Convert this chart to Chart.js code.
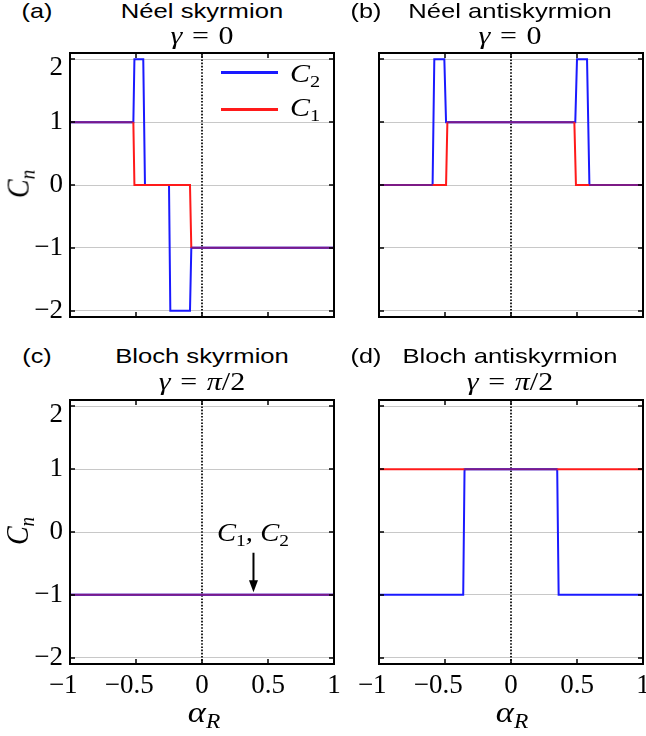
<!DOCTYPE html>
<html>
<head>
<meta charset="utf-8">
<script src="https://cdn.jsdelivr.net/npm/chart.js@4/dist/chart.umd.min.js"></script>
<style>
  html, body { margin: 0; padding: 0; background: #fff; }
  body { width: 646px; height: 736px; position: relative; overflow: hidden; }
  canvas { position: absolute; }
  .tx { position: absolute; white-space: nowrap; line-height: 1; color: #000; }
  .tx sub { font-size: 0.68em; vertical-align: -0.28em; line-height: 0; }
  .tx sub.up { font-style: normal; }
  .sans { font-family: "Liberation Sans", Arial, Helvetica, sans-serif; }
  .serif { font-family: "Liberation Serif", "Times New Roman", serif; }
  .lg { position: absolute; height: 3px; }
</style>
</head>
<body>
<canvas id="pa" width="342" height="280" style="left:0px;top:45px;width:342px;height:280px"></canvas>
<canvas id="pb" width="306" height="280" style="left:340px;top:45px;width:306px;height:280px"></canvas>
<canvas id="pc" width="342" height="344" style="left:0px;top:392px;width:342px;height:344px"></canvas>
<canvas id="pd" width="306" height="344" style="left:340px;top:392px;width:306px;height:344px"></canvas>
<script>
// ---------------- data ----------------
// axes
const xTickValues = [-1, -0.5, 0, 0.5, 1];
const xTickLabels = ['\u22121', '\u22120.5', '0', '0.5', '1'];
const yTickValues = [-2, -1, 0, 1, 2];
const yTickLabels = ['\u22122', '\u22121', '0', '1', '2'];
const xMin = -1, xMax = 1, yMin = -2.1, yMax = 2.1;

// dotted reference line at alpha_R = 0
const zeroLineX = [0, 0];
const zeroLineY = [-2.1, 2.1];

// (a) Neel skyrmion, gamma = 0
const aR_a_C1 = [-1, -0.52, -0.512, -0.091, -0.081, 1];
const Cn_a_C1 = [ 1,  1,      0,      0,     -1,    -1];
const aR_a_C2 = [-1, -0.52, -0.512, -0.445, -0.432, -0.25, -0.24, -0.091, -0.081, 1];
const Cn_a_C2 = [ 1,  1,      2,      2,      0,      0,    -2,    -2,     -1,    -1];

// (b) Neel antiskyrmion, gamma = 0
const aR_b_C1 = [-1, -0.594, -0.492, -0.482, 0.480, 0.492, 0.594, 1];
const Cn_b_C1 = [ 0,  0,      0,      1,     1,     0,     0,     0];
const aR_b_C2 = [-1, -0.594, -0.581, -0.505, -0.492, 0.487, 0.500, 0.576, 0.594, 1];
const Cn_b_C2 = [ 0,  0,      2,      2,      1,     1,     2,     2,     0,     0];

// (c) Bloch skyrmion, gamma = pi/2
const aR_c_C1 = [-1, 1];
const Cn_c_C1 = [-1, -1];
const aR_c_C2 = [-1, 1];
const Cn_c_C2 = [-1, -1];

// (d) Bloch antiskyrmion, gamma = pi/2
const aR_d_C1 = [-1, -0.352, 0.350, 1];
const Cn_d_C1 = [ 1,  1,     1,     1];
const aR_d_C2 = [-1, -0.362, -0.352, 0.350, 0.361, 1];
const Cn_d_C2 = [-1, -1,      1,     1,    -1,    -1];

// annotation arrow in (c): C1, C2 at alpha_R = 0.39
const arrowX = 0.39, arrowYFrom = -0.33, arrowYTo = -0.96;

// ---------------- styling ----------------
const SERIF = '"Liberation Serif", "Times New Roman", serif';
const C1_COLOR = '#ff1a1a';
const C2_COLOR = '#1a1aff';
const BOTH_COLOR = '#7d1a86';   // where the C1 and C2 curves coincide

function pts(xs, ys) { return xs.map((x, i) => ({ x: x, y: ys[i] })); }

// value of a piecewise-linear curve at x (used only to colour coinciding segments)
function curveAt(xs, ys, x) {
  for (let i = 0; i < xs.length - 1; i++) {
    if (x >= xs[i] - 1e-9 && x <= xs[i + 1] + 1e-9) {
      if (xs[i + 1] === xs[i]) return ys[i];
      return ys[i] + (ys[i + 1] - ys[i]) * (x - xs[i]) / (xs[i + 1] - xs[i]);
    }
  }
  return NaN;
}

function lineDS(xs, ys, color, otherX, otherY) {
  const ds = { data: pts(xs, ys), borderColor: color, backgroundColor: color, borderWidth: 2,
               pointRadius: 0, showLine: true, fill: false, tension: 0, borderJoinStyle: 'miter' };
  if (otherX) {
    ds.segment = {
      borderColor: c => {
        const i0 = c.p0DataIndex, i1 = c.p1DataIndex;
        const same = Math.abs(curveAt(otherX, otherY, xs[i0]) - ys[i0]) < 1e-6 &&
                     Math.abs(curveAt(otherX, otherY, xs[i1]) - ys[i1]) < 1e-6 &&
                     Math.abs(curveAt(otherX, otherY, (xs[i0] + xs[i1]) / 2) - (ys[i0] + ys[i1]) / 2) < 1e-6;
        return same ? BOTH_COLOR : color;
      }
    };
  }
  return ds;
}
function zeroDS() {
  return { data: pts(zeroLineX, zeroLineY), borderColor: '#000', borderWidth: 1.7,
           borderDash: [1.6, 1.6], pointRadius: 0, showLine: true, fill: false };
}

const framePlugin = {
  id: 'frameTicks',
  afterDatasetsDraw(chart) {
    const { ctx, chartArea: a, scales: { x, y } } = chart;
    ctx.save();
    ctx.strokeStyle = '#000';
    ctx.lineWidth = 1.5;
    ctx.beginPath();
    xTickValues.forEach(v => {
      const px = Math.round(x.getPixelForValue(v));
      ctx.moveTo(px, a.bottom); ctx.lineTo(px, a.bottom - 5);
      ctx.moveTo(px, a.top); ctx.lineTo(px, a.top + 5);
    });
    yTickValues.forEach(v => {
      const py = Math.round(y.getPixelForValue(v));
      ctx.moveTo(a.left, py); ctx.lineTo(a.left + 5, py);
      ctx.moveTo(a.right, py); ctx.lineTo(a.right - 5, py);
    });
    ctx.stroke();
    ctx.lineWidth = 2;
    ctx.strokeRect(a.left, a.top, a.right - a.left, a.bottom - a.top);
    ctx.restore();
  }
};

const arrowPlugin = {
  id: 'arrowC',
  afterDatasetsDraw(chart) {
    const { ctx, scales: { x, y } } = chart;
    const px = x.getPixelForValue(arrowX);
    const y0 = y.getPixelForValue(arrowYFrom);
    const y1 = y.getPixelForValue(arrowYTo);
    ctx.save();
    ctx.strokeStyle = '#000'; ctx.fillStyle = '#000'; ctx.lineWidth = 2;
    ctx.beginPath(); ctx.moveTo(px, y0); ctx.lineTo(px, y1 - 10); ctx.stroke();
    ctx.beginPath(); ctx.moveTo(px - 4.5, y1 - 12); ctx.lineTo(px + 4.5, y1 - 12); ctx.lineTo(px, y1); ctx.closePath(); ctx.fill();
    ctx.restore();
  }
};

function makePanel(id, c1x, c1y, c2x, c2y, cfg, extraPlugins) {
  const ctx = document.getElementById(id).getContext('2d');
  const topY = yTickValues[yTickValues.length - 1];
  return new Chart(ctx, {
    type: 'scatter',
    data: { datasets: [ lineDS(c1x, c1y, C1_COLOR, c2x, c2y), lineDS(c2x, c2y, C2_COLOR), zeroDS() ] },
    options: {
      responsive: false, animation: false, events: [],
      layout: { padding: { left: cfg.padL, right: cfg.padR, top: 8, bottom: cfg.padB } },
      plugins: { legend: { display: false }, tooltip: { enabled: false }, title: { display: false } },
      scales: {
        x: {
          type: 'linear', min: xMin, max: xMax,
          grid: { display: false, drawTicks: false }, border: { display: false },
          afterBuildTicks: s => { s.ticks = xTickValues.map(v => ({ value: v })); },
          ticks: { display: cfg.xLabels, autoSkip: false, maxRotation: 0, minRotation: 0, padding: 6,
                   color: '#000', font: { family: SERIF, size: 27 },
                   callback: (v) => { const i = xTickValues.indexOf(v); const l = xTickLabels[i]; return v < 0 ? l + '\u2002' : l; } },
          afterFit: s => { s.height = cfg.xH; s.paddingLeft = 0; s.paddingRight = 0; }
        },
        y: {
          type: 'linear', min: yMin, max: yMax,
          grid: { color: '#c8c8c8', lineWidth: 1, drawTicks: false }, border: { display: false },
          afterBuildTicks: s => { s.ticks = yTickValues.map(v => ({ value: v })); },
          ticks: { display: cfg.yLabels, padding: 7, color: '#000', font: { family: SERIF, size: 27, lineHeight: 0.67 },
                   callback: (v) => { const l = yTickLabels[yTickValues.indexOf(v)]; return v === topY ? ['', l] : l; } },
          afterFit: s => { s.width = cfg.yW; s.paddingTop = 0; s.paddingBottom = 0; }
        }
      }
    },
    plugins: [framePlugin].concat(extraPlugins || [])
  });
}

makePanel('pa', aR_a_C1, Cn_a_C1, aR_a_C2, Cn_a_C2, { padL: 0, padR: 8, padB: 8, yW: 70, xH: 0, xLabels: false, yLabels: true });
makePanel('pb', aR_b_C1, Cn_b_C1, aR_b_C2, Cn_b_C2, { padL: 39, padR: 3, padB: 8, yW: 0, xH: 0, xLabels: false, yLabels: false });
makePanel('pc', aR_c_C1, Cn_c_C1, aR_c_C2, Cn_c_C2, { padL: 0, padR: 8, padB: 0, yW: 70, xH: 72, xLabels: true, yLabels: true }, [arrowPlugin]);
makePanel('pd', aR_d_C1, Cn_d_C1, aR_d_C2, Cn_d_C2, { padL: 39, padR: 3, padB: 0, yW: 0, xH: 72, xLabels: true, yLabels: false });

// ---------------- text ----------------
function addText(html, cls, cx, base, fs, sx, italic) {
  const d = document.createElement('div');
  d.className = 'tx ' + cls;
  d.innerHTML = html;
  const k = cls === 'sans' ? 0.8465 : 0.8375;
  d.style.left = cx + 'px';
  d.style.top = (base - k * fs) + 'px';
  d.style.fontSize = fs + 'px';
  if (italic) d.style.fontStyle = 'italic';
  d.style.transform = 'translateX(-50%) scaleX(' + sx + ')';
  document.body.appendChild(d);
  return d;
}
function addRotated(html, cx, cy, fs, sy) {
  const d = document.createElement('div');
  d.className = 'tx serif';
  d.innerHTML = html;
  d.style.left = cx + 'px';
  d.style.top = cy + 'px';
  d.style.fontSize = fs + 'px';
  d.style.fontStyle = 'italic';
  d.style.transform = 'translate(-50%,-50%) rotate(-90deg) scaleY(' + sy + ')';
  document.body.appendChild(d);
}
const eq = (l, r) => '<i>' + l + '</i><span style="margin:0 0.32em">=</span>' + r;

const panelLabels = ['(a)', '(b)', '(c)', '(d)'];
const panelTitles = ['Néel skyrmion', 'Néel antiskyrmion', 'Bloch skyrmion', 'Bloch antiskyrmion'];
const panelGamma = ['0', '0', '<i>π</i>/2', '<i>π</i>/2'];
const labelCx = [37, 366, 37, 366];
const titleCx = [202, 510, 202, 510];
const titleBase = [18, 18, 363, 363];
const gammaBase = [44, 44, 390, 390];

for (let i = 0; i < 4; i++) {
  addText(panelLabels[i], 'sans', labelCx[i], titleBase[i], 21, 1.2, false);
  addText(panelTitles[i], 'sans', titleCx[i], titleBase[i], 21, 1.22, false);
  addText(eq('γ', panelGamma[i]), 'serif', titleCx[i], gammaBase[i], 25, 1.2, false);
}
// axis labels
addRotated('C<sub>n</sub>', 18, 184, 28, 1.15);
addRotated('C<sub>n</sub>', 18, 531, 28, 1.15);
addText('α<sub>R</sub>', 'serif', 204, 722, 30, 1.15, true);
addText('α<sub>R</sub>', 'serif', 512, 722, 30, 1.15, true);

// legend in (a)
function legendLine(x0, x1, yc, color) {
  const d = document.createElement('div');
  d.className = 'lg';
  d.style.left = x0 + 'px'; d.style.width = (x1 - x0) + 'px';
  d.style.top = (yc - 1.5) + 'px'; d.style.background = color;
  document.body.appendChild(d);
}
legendLine(221, 278, 72, C2_COLOR);
legendLine(221, 278, 109, C1_COLOR);
addText('C<sub class="up">2</sub>', 'serif', 305, 83, 26, 1.15, true);
addText('C<sub class="up">1</sub>', 'serif', 305, 117, 26, 1.15, true);

// annotation in (c)
addText('C<sub class="up">1</sub>, C<sub class="up">2</sub>', 'serif', 253, 542, 26, 1.1, true);
</script>
</body>
</html>
